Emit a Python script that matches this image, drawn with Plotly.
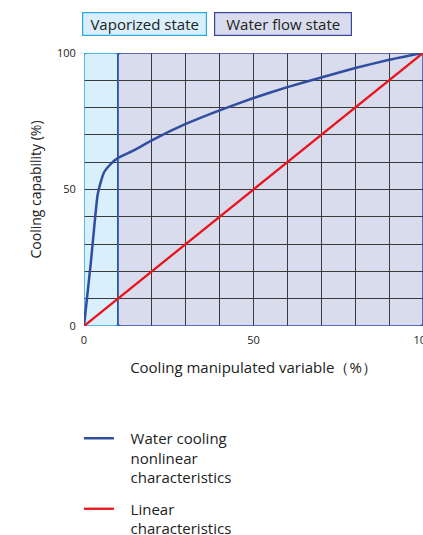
import plotly.graph_objects as go

# Data
x_nonlinear = [0, 2, 4, 5, 6, 8, 10, 15, 20, 30, 40, 50, 60, 70, 80, 90, 100]
y_nonlinear = [0, 23, 48, 53, 56.5, 59.5, 61.5, 64.5, 68, 74, 79, 83.5, 87.5, 91, 94.5, 97.5, 100]
x_linear = [0, 100]
y_linear = [0, 100]
region_names = ["Vaporized state", "Water flow state"]
region_start = [0, 10]
region_end = [10, 100]
region_fill = ["#d9effb", "#d9dcec"]
region_line = ["#29a9e1", "#34489a"]
x_ticks = [0, 50, 100]
y_ticks = [0, 50, 100]

W, H = 433, 570
ML, MR, MT, MB = 84, 10, 53, 570 - 326
plot_w = W - ML - MR
plot_h = H - MT - MB

pad = "\u00a0" * 3

fig = go.Figure()
fig.add_trace(go.Scatter(x=x_nonlinear, y=y_nonlinear, mode="lines", legendgroup="a",
                         line=dict(color="#2f4ea0", width=2.5, shape="spline", smoothing=0.4),
                         name=pad + "Water cooling<br>" + pad + "nonlinear<br>" + pad + "characteristics"))
fig.add_trace(go.Scatter(x=x_linear, y=y_linear, mode="lines", legendgroup="b",
                         line=dict(color="#e8141e", width=2.3),
                         name=pad + "Linear<br>" + pad + "characteristics"))

def rounded(x0, x1, y0, y1, rx=1.0, ry=1.1):
    return (f"M {x0+rx},{y0} L {x1-rx},{y0} Q {x1},{y0} {x1},{y0+ry} "
            f"L {x1},{y1-ry} Q {x1},{y1} {x1-rx},{y1} L {x0+rx},{y1} "
            f"Q {x0},{y1} {x0},{y1-ry} L {x0},{y0+ry} Q {x0},{y0} {x0+rx},{y0} Z")

shapes = []
for s, e, fc, lc in zip(region_start, region_end, region_fill, region_line):
    shapes.append(dict(type="path", xref="x", yref="y", layer="below",
                       path=rounded(s, e, 0, 100), fillcolor=fc,
                       line=dict(width=0)))
for s, e, fc, lc in zip(region_start, region_end, region_fill, region_line):
    shapes.append(dict(type="path", xref="x", yref="y", layer="between",
                       path=rounded(s, e, 0, 100), fillcolor="rgba(0,0,0,0)",
                       line=dict(color=lc, width=1.5)))

annotations = []
box_px = [(82, 207), (214, 352)]
for name, (a, b), fc, lc in zip(region_names, box_px, region_fill, region_line):
    annotations.append(dict(text=name, xref="paper", yref="paper",
                            x=(a - ML) / plot_w, y=1 + (MT - 12) / plot_h,
                            xanchor="left", yanchor="top", showarrow=False,
                            width=b - a - 4, height=20, align="center",
                            bgcolor=fc, bordercolor=lc, borderwidth=1.2, borderpad=1,
                            font=dict(size=15, color="#222")))

fig.update_layout(
    width=W, height=H,
    margin=dict(l=ML, r=MR, t=MT, b=MB, autoexpand=False),
    paper_bgcolor="white", plot_bgcolor="white",
    font=dict(family="Open Sans, Noto Sans, sans-serif", color="#222"),
    shapes=shapes, annotations=annotations,
    showlegend=True,
    legend=dict(x=-0.015, y=-(422 - (MT + plot_h)) / plot_h, xanchor="left", yanchor="top",
                font=dict(size=15, color="#222"), valign="top",
                tracegroupgap=9, itemwidth=30),
    xaxis=dict(range=[0, 100], tickvals=x_ticks, ticks="outside", ticklen=4, tickcolor="rgba(0,0,0,0)",
               showline=False, showgrid=True, gridcolor="#3a3a3a", gridwidth=1.2, automargin=False,
               tickfont=dict(size=11, color="#222"), zeroline=False,
               title=dict(text="Cooling manipulated variable（%）", font=dict(size=15), standoff=16)),
    yaxis=dict(range=[0, 100], tickvals=y_ticks, ticks="outside", ticklen=5, tickcolor="rgba(0,0,0,0)",
               showline=False, showgrid=True, gridcolor="#3a3a3a", gridwidth=1.2, automargin=False,
               tickfont=dict(size=11, color="#222"), zeroline=False,
               title=dict(text="Cooling capability (%)", font=dict(size=14), standoff=12)),
)
fig.update_xaxes(minor=dict(dtick=10, showgrid=True, gridcolor="#3a3a3a", gridwidth=1.2))
fig.update_yaxes(minor=dict(dtick=10, showgrid=True, gridcolor="#3a3a3a", gridwidth=1.2))

fig.write_html("out.html", config={"displayModeBar": False},
               post_script="document.body.style.margin='0';document.body.style.overflow='hidden';")
